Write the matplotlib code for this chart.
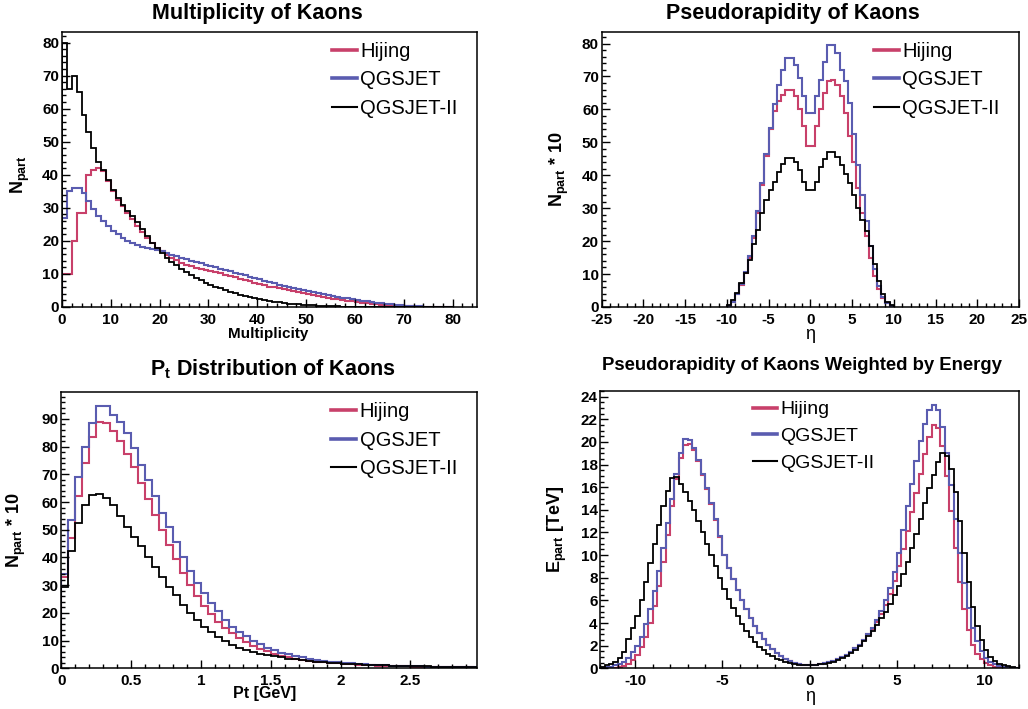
import numpy as np
import matplotlib
matplotlib.use("Agg")
import matplotlib.pyplot as plt
from matplotlib.lines import Line2D
from matplotlib.ticker import MultipleLocator, FuncFormatter

plt.rcParams['font.family'] = ['Liberation Sans', 'DejaVu Sans']
plt.rcParams['axes.unicode_minus'] = False
plt.rcParams['mathtext.fontset'] = 'custom'
plt.rcParams['mathtext.rm'] = 'Liberation Sans'
plt.rcParams['mathtext.bf'] = 'Liberation Sans:bold'
plt.rcParams['mathtext.it'] = 'Liberation Sans:italic'

RED = '#c8406a'
BLUE = '#5a5cb0'
BLACK = '#000000'
labels = ['Hijing', 'QGSJET', 'QGSJET-II']

# multiplicity, bins of width 1 starting at 0
mult_hijing = [10, 10, 20, 28.5, 28.5, 40, 41.5, 42, 41, 38,
               35, 32.5, 30.5, 28.5, 26.5, 24.5, 22.8, 21, 19.5, 18,
               16.8, 15.8, 14.9, 14.1, 13.4, 12.8, 12.3, 11.9, 11.6, 11.3,
               11.0, 10.6, 10.2, 9.8, 9.4, 9.0, 8.6, 8.2, 7.8, 7.4,
               7.0, 6.6, 6.2, 5.9, 5.6, 5.3, 5.0, 4.7, 4.4, 4.1,
               3.8, 3.5, 3.25, 3.0, 2.75, 2.5, 2.3, 2.1, 1.9, 1.7,
               1.5, 1.3, 1.15, 1.0, 0.85, 0.72, 0.6, 0.5, 0.4, 0.32,
               0.25, 0.19, 0.14, 0.1, 0.07, 0.05, 0.03, 0.02, 0.01, 0.01]
mult_qgsjet = [27, 35, 36, 36, 34.5, 32, 29.5, 27.5, 26, 24.5,
               23, 22, 21, 20, 19.3, 18.8, 18.3, 17.8, 17.5, 17.2,
               16.8, 16.3, 15.8, 15.3, 14.8, 14.4, 14.0, 13.6, 13.2, 12.8,
               12.4, 12.0, 11.6, 11.2, 10.8, 10.4, 10.0, 9.6, 9.2, 8.8,
               8.4, 8.0, 7.6, 7.2, 6.8, 6.5, 6.2, 5.8, 5.5, 5.2,
               4.9, 4.6, 4.3, 4.0, 3.7, 3.4, 3.1, 2.85, 2.6, 2.35,
               2.1, 1.9, 1.7, 1.5, 1.3, 1.1, 0.95, 0.8, 0.65, 0.52,
               0.42, 0.33, 0.25, 0.19, 0.14, 0.1, 0.07, 0.05, 0.03, 0.02]
mult_qgsjet2 = [80, 66, 70, 65, 58, 53, 48, 44, 41.5, 38.5,
                35.5, 33, 31, 29, 27.5, 25.8, 23.5, 21.5, 19.5, 17.8,
                16.2, 14.9, 13.7, 12.6, 11.6, 10.6, 9.7, 8.9, 8.1, 7.4,
                6.8, 6.2, 5.6, 5.1, 4.6, 4.1, 3.7, 3.3, 2.95, 2.65,
                2.35, 2.05, 1.8, 1.6, 1.4, 1.2, 1.05, 0.9, 0.78, 0.67,
                0.57, 0.48, 0.4, 0.33, 0.27, 0.22, 0.18, 0.14, 0.11, 0.09,
                0.07, 0.05, 0.04, 0.03, 0.02, 0.015, 0.01, 0.01, 0, 0,
                0, 0, 0, 0, 0, 0, 0, 0, 0, 0]

# pseudorapidity, bins of 0.5 from -10 to 10
eta_hijing = [0.4, 1.5, 3.8, 6.8, 10.3, 15, 21, 28.5, 37, 46,
              54, 59.5, 62.5, 64.5, 66, 66, 64, 60, 55, 49,
              49, 55, 60, 65, 68.5, 69, 67.5, 64, 59, 52,
              44, 36, 28.5, 21.5, 15, 9.5, 5.5, 2.8, 1.1, 0.3]
eta_qgsjet = [0.4, 1.6, 3.9, 7, 10.5, 15.5, 21.5, 29, 37.5, 46.5,
              54.5, 61.5, 67.5, 72, 75.5, 75.5, 73.5, 69.5, 64, 59,
              59, 64, 69, 74.5, 79.5, 79.5, 77, 72, 68.5, 62,
              52.5, 43, 34, 26, 18.5, 11.5, 6.5, 3, 1.2, 0.3]
eta_qgsjet2 = [0.7, 2.2, 4.2, 7.3, 10.3, 14.3, 19, 23.4, 28.5, 32.5,
               35.6, 38, 41, 43.5, 45.3, 45.3, 44, 41.5, 38, 35.5,
               35.5, 38, 42.5, 45, 47.2, 47.2, 45.5, 43, 40.5, 37.5,
               34, 30, 26.5, 23, 18.5, 13, 8, 4, 1.6, 0.5]

# transverse momentum, bins of 0.05 GeV from 0
pt_hijing = [33, 47, 62, 74, 83.5, 89, 88.5, 85.5, 82, 77.5, 72.5, 67,
             61, 55.5, 50, 44.5, 39.5, 34.5, 30, 26, 22.5, 19.5, 16.8, 14.5,
             12.6, 10.9, 9.4, 8.1, 7.0, 6.1, 5.3, 4.6, 4.0, 3.5, 3.1, 2.75,
             2.45, 2.2, 1.97, 1.77, 1.6, 1.45, 1.31, 1.19, 1.08, 0.98, 0.89, 0.81,
             0.74, 0.67, 0.61, 0.56, 0.51, 0.47, 0.43, 0.39, 0.36, 0.33, 0.3, 0.27]
pt_qgsjet = [34, 53.5, 69, 80, 88.5, 94.5, 94.5, 91.5, 89, 85, 79.5, 73.5,
             68, 62, 56, 51, 45.7, 40.3, 35, 30.7, 27, 23.5, 20.5, 17.5,
             15, 13.1, 11.5, 10.0, 8.7, 7.5, 6.5, 5.7, 5.0, 4.4, 3.9, 3.4,
             3.0, 2.7, 2.4, 2.15, 1.95, 1.75, 1.58, 1.43, 1.3, 1.18, 1.07, 0.97,
             0.88, 0.8, 0.73, 0.67, 0.61, 0.56, 0.51, 0.47, 0.43, 0.39, 0.36, 0.33]
pt_qgsjet2 = [29.5, 42.5, 52.5, 59, 62.5, 63, 61.5, 59, 55, 51, 47.5, 44,
              40.3, 36.7, 33.1, 29.5, 26.3, 23, 20, 17.4, 15, 13.2, 11.4, 9.8,
              8.5, 7.5, 6.6, 5.9, 5.3, 4.8, 4.3, 3.9, 3.5, 3.2, 2.9, 2.65,
              2.4, 2.2, 2.0, 1.85, 1.7, 1.55, 1.45, 1.35, 1.25, 1.15, 1.05, 0.98,
              0.9, 0.84, 0.78, 0.72, 0.67, 0.62, 0.57, 0.53, 0.49, 0.45, 0.42, 0.39]

# energy weighted pseudorapidity [TeV], bins of 0.25 from -12 to 12
ew_hijing = [0.01, 0.02, 0.03, 0.05, 0.1, 0.2, 0.4, 0.7, 1.2, 1.9, 2.8, 4.0,
             5.5, 7.3, 9.4, 11.8, 14.3, 16.7, 18.6, 19.7, 19.8, 19.3, 18.3, 17.1,
             15.8, 14.5, 13.1, 11.6, 10.0, 8.9, 7.9, 6.9, 6.0, 5.2, 4.4, 3.7,
             3.1, 2.6, 2.1, 1.7, 1.35, 1.1, 0.85, 0.65, 0.5, 0.4, 0.33, 0.3,
             0.3, 0.33, 0.38, 0.45, 0.55, 0.68, 0.82, 1.0, 1.2, 1.45, 1.75, 2.1,
             2.5, 3.0, 3.5, 4.1, 4.8, 5.6, 6.6, 7.7, 9.0, 10.5, 12.1, 13.8,
             15.5, 17.2, 18.9, 20.4, 21.5, 21.2, 19.6, 17.0, 13.9, 10.6, 7.6, 5.2,
             3.4, 2.1, 1.3, 0.8, 0.45, 0.25, 0.14, 0.07, 0.04, 0.02, 0.01, 0.0]
ew_qgsjet = [0.05, 0.1, 0.15, 0.25, 0.4, 0.6, 0.9, 1.4, 2.0, 2.8, 3.9, 5.2,
             6.8, 8.6, 10.6, 12.8, 15.0, 17.2, 19.0, 20.3, 20.2, 19.5, 18.4, 17.2,
             15.9, 14.6, 13.2, 11.7, 10.0, 8.9, 7.9, 6.9, 6.0, 5.2, 4.4, 3.7,
             3.1, 2.6, 2.1, 1.7, 1.35, 1.1, 0.85, 0.65, 0.5, 0.4, 0.33, 0.3,
             0.3, 0.33, 0.38, 0.45, 0.55, 0.68, 0.82, 1.0, 1.2, 1.45, 1.75, 2.1,
             2.5, 3.0, 3.6, 4.3, 5.1, 6.0, 7.1, 8.5, 10.2, 12.2, 14.3, 16.3,
             18.3, 20.1, 21.6, 22.8, 23.3, 22.8, 21.3, 19.0, 16.2, 13.2, 10.2, 7.5,
             5.3, 3.6, 2.4, 1.5, 0.95, 0.6, 0.38, 0.24, 0.15, 0.09, 0.05, 0.03]
ew_qgsjet2 = [0.15, 0.25, 0.4, 0.6, 0.9, 1.4, 2.6, 3.6, 4.6, 6.0, 7.6, 9.3,
              11.0, 12.7, 14.3, 15.7, 16.8, 16.9, 16.3, 15.6, 14.8, 14.0, 13.0, 12.0,
              11.0, 10.0, 9.0, 8.0, 7.0, 6.1, 5.3, 4.6, 3.9, 3.3, 2.8, 2.3,
              1.9, 1.6, 1.3, 1.05, 0.85, 0.7, 0.55, 0.45, 0.38, 0.32, 0.28, 0.26,
              0.27, 0.3, 0.35, 0.42, 0.5, 0.6, 0.75, 0.9, 1.1, 1.35, 1.65, 2.0,
              2.4, 2.85, 3.3, 3.8, 4.4, 5.0, 5.7, 6.5, 7.3, 8.3, 9.4, 10.6,
              11.9, 13.2, 14.6, 15.9, 17.1, 18.2, 19.0, 18.8, 17.6, 15.6, 13.0, 10.2,
              7.6, 5.4, 3.7, 2.5, 1.6, 1.0, 0.65, 0.42, 0.27, 0.17, 0.1, 0.06]


def edges(start, width, n):
    return start + width * np.arange(n + 1)


def draw_hists(ax, series, x0, width):
    for vals, col, lw in zip(series, [RED, BLUE, BLACK], [1.5, 1.5, 1.3]):
        ax.stairs(vals, edges(x0, width, len(vals)), color=col, lw=lw)


def style(ax, xmaj, xmin, ymaj, ymin):
    ax.xaxis.set_major_locator(MultipleLocator(xmaj))
    ax.xaxis.set_minor_locator(MultipleLocator(xmin))
    ax.yaxis.set_major_locator(MultipleLocator(ymaj))
    ax.yaxis.set_minor_locator(MultipleLocator(ymin))
    ax.tick_params(which='both', direction='in', top=False, right=False)
    ax.tick_params(which='major', length=6, width=1.0)
    ax.tick_params(which='minor', length=3, width=1.0)
    ax.tick_params(axis='y', pad=2)
    ax.tick_params(axis='x', pad=4)
    for lab in ax.get_xticklabels() + ax.get_yticklabels():
        lab.set_fontweight('bold')
        lab.set_fontsize(11)
    for sp in ax.spines.values():
        sp.set_linewidth(1.1)


def legend(ax, x, y, size=14.5):
    handles = [Line2D([], [], color=RED, lw=2.6),
               Line2D([], [], color=BLUE, lw=2.6),
               Line2D([], [], color=BLACK, lw=1.5)]
    ax.legend(handles, labels, loc='upper left', bbox_to_anchor=(x, y),
              frameon=False, fontsize=size, handlelength=1.25,
              handletextpad=0.15, labelspacing=0.48, borderaxespad=0,
              borderpad=0)


W, H = 1028, 709
fig = plt.figure(figsize=(W / 100, H / 100), dpi=100)


def add_ax(l, r, t, b):
    return fig.add_axes([l / W, 1 - b / H, (r - l) / W, (b - t) / H])


# top left: multiplicity
ax1 = add_ax(62, 477, 32, 307)
draw_hists(ax1, [mult_hijing, mult_qgsjet, mult_qgsjet2], 0, 1)
ax1.set_xlim(0, 85)
ax1.set_ylim(0, 83.2)
style(ax1, 10, 2, 10, 2)
ax1.text(0.496, -0.097, 'Multiplicity', transform=ax1.transAxes,
         ha='center', va='center', fontsize=11, fontweight='bold')
ax1.text(-0.1, 0.48, r'$\mathbf{N_{part}}$', transform=ax1.transAxes,
         rotation=90, ha='center', va='center', fontsize=13)
legend(ax1, 0.65, 0.965)
fig.text(257 / W, 1 - 14 / H, 'Multiplicity of Kaons', ha='center',
         va='center', fontsize=15.5, fontweight='bold')

# top right: pseudorapidity
ax2 = add_ax(601.7, 1019, 32, 307)
draw_hists(ax2, [eta_hijing, eta_qgsjet, eta_qgsjet2], -10, 0.5)
ax2.set_xlim(-25, 25)
ax2.set_ylim(0, 83.5)
style(ax2, 5, 1, 10, 2)
ax2.text(0.5, -0.1, 'η', transform=ax2.transAxes,
         ha='center', va='center', fontsize=13)
ax2.text(-0.102, 0.5, r'$\mathbf{N_{part}}$ * 10', transform=ax2.transAxes,
         rotation=90, ha='center', va='center', fontsize=13,
         fontweight='bold')
legend(ax2, 0.652, 0.965)
fig.text(793 / W, 1 - 14 / H, 'Pseudorapidity of Kaons', ha='center',
         va='center', fontsize=15.5, fontweight='bold')

# bottom left: transverse momentum
ax3 = add_ax(61.3, 476.7, 392.3, 668.3)
draw_hists(ax3, [pt_hijing, pt_qgsjet, pt_qgsjet2], 0, 0.05)
ax3.set_xlim(0, 2.975)
ax3.set_ylim(0, 99.6)
style(ax3, 0.5, 0.1, 10, 2)
ax3.xaxis.set_major_formatter(FuncFormatter(lambda v, p: '%g' % v))
for lab in ax3.get_xticklabels():
    lab.set_fontweight('bold')
    lab.set_fontsize(11)
ax3.text(0.49, -0.093, 'Pt [GeV]', transform=ax3.transAxes,
         ha='center', va='center', fontsize=11.5, fontweight='bold')
ax3.text(-0.108, 0.5, r'$\mathbf{N_{part}}$ * 10', transform=ax3.transAxes,
         rotation=90, ha='center', va='center', fontsize=13,
         fontweight='bold')
legend(ax3, 0.65, 0.965)
fig.text(273 / W, 1 - 369 / H, r'$\mathbf{P_t}$ Distribution of Kaons',
         ha='center', va='center', fontsize=15.5, fontweight='bold')

# bottom right: energy weighted pseudorapidity
ax4 = add_ax(600.3, 1019, 391, 668.3)
draw_hists(ax4, [ew_hijing, ew_qgsjet, ew_qgsjet2], -12, 0.25)
ax4.set_xlim(-12, 12)
ax4.set_ylim(0, 24.5)
style(ax4, 5, 1, 2, 0.5)
ax4.text(0.5, -0.1, 'η', transform=ax4.transAxes,
         ha='center', va='center', fontsize=13)
ax4.text(-0.103, 0.5, r'$\mathbf{E_{part}}$ [TeV]', transform=ax4.transAxes,
         rotation=90, ha='center', va='center', fontsize=13,
         fontweight='bold')
legend(ax4, 0.365, 0.965, size=14)
fig.text(802 / W, 1 - 365 / H, 'Pseudorapidity of Kaons Weighted by Energy',
         ha='center', va='center', fontsize=13.3, fontweight='bold')

fig.savefig('out.png', dpi=100)
